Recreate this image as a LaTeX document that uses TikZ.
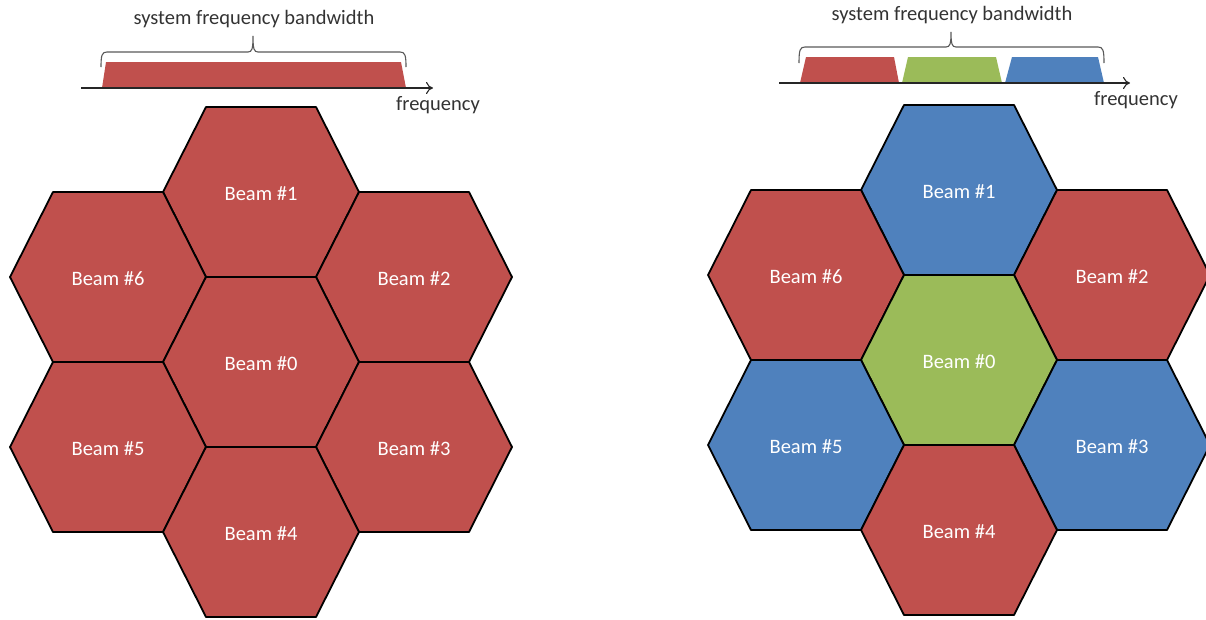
\documentclass[tikz,border=0pt]{standalone}
\usepackage{fontspec}
\setmainfont{Carlito}
\usetikzlibrary{arrows.meta}

\definecolor{beamred}{HTML}{C0504D}
\definecolor{beamgreen}{HTML}{9BBB59}
\definecolor{beamblue}{HTML}{4F81BD}

\newcommand{\hexw}{98}
\newcommand{\hexe}{55}
\newcommand{\hexh}{85}
\newcommand{\txtsize}{\fontsize{20.5}{24}\selectfont}

% hex cell: name, x, y, colour, label
\newcommand{\hexcell}[5]{
    \filldraw[#4, draw=black, line width=1.8pt, line join=round]
        (#2-\hexw,#3) -- (#2-\hexe,#3-\hexh) -- (#2+\hexe,#3-\hexh)
        -- (#2+\hexw,#3) -- (#2+\hexe,#3+\hexh) -- (#2-\hexe,#3+\hexh) -- cycle;
    \node[beamlabel] (#1) at (#2,#3+2) {#5};
}
% band: left bottom, left top, right top, right bottom, axis y, top y, colour
\newcommand{\band}[7]{
    \fill[#7] (#1,#5) -- (#2,#6) -- (#3,#6) -- (#4,#5) -- cycle;
}
% brace: left x, right x, tip x, end y, flat y, tip y
\newcommand{\bwbrace}[6]{
    \draw[bracestyle] (#1,#4) .. controls (#1,#5+3) and (#1+1,#5) .. (#1+6,#5)
        -- (#3-5,#5) .. controls (#3-1,#5) and (#3,#5-3) .. (#3,#6)
        .. controls (#3,#5-3) and (#3+1,#5) .. (#3+5,#5)
        -- (#2-6,#5) .. controls (#2-1,#5) and (#2,#5+3) .. (#2,#4);
}

\tikzset{
    beamlabel/.style={text=white, font=\txtsize, inner sep=0pt},
    toplabel/.style={text=black!80, font=\txtsize, inner sep=0pt},
    bracestyle/.style={draw=black!65, line width=1.1pt},
    freqaxis/.style={draw=black!85, line width=1.1pt, -{To[length=7pt,width=12pt]}},
}

\begin{document}
\begin{tikzpicture}[x=1pt, y=-1pt]
    \useasboundingbox (0,0) rectangle (1206,619);

    % left: one band for all beams
    \band{102}{106}{401}{406}{88}{62}{beamred}
    \coordinate (la0) at (81,88);
    \coordinate (la1) at (433,88);
    \draw[freqaxis] (la0) -- (la1);
    \bwbrace{101}{406}{253}{67}{52}{36}
    \node[toplabel] (lbw) at (254,19) {system frequency bandwidth};
    \node[toplabel] (lfreq) at (438,105) {frequency};

    \hexcell{l1}{261}{192}{beamred}{Beam \#1}
    \hexcell{l6}{108}{277}{beamred}{Beam \#6}
    \hexcell{l2}{414}{277}{beamred}{Beam \#2}
    \hexcell{l0}{261}{362}{beamred}{Beam \#0}
    \hexcell{l5}{108}{447}{beamred}{Beam \#5}
    \hexcell{l3}{414}{447}{beamred}{Beam \#3}
    \hexcell{l4}{261}{532}{beamred}{Beam \#4}

    % right: three sub-bands
    \band{800}{806}{894}{899}{83}{57}{beamred}
    \band{902}{908}{996}{1002}{83}{57}{beamgreen}
    \band{1005}{1012}{1098}{1104}{83}{57}{beamblue}
    \coordinate (ra0) at (779,83);
    \coordinate (ra1) at (1130,83);
    \draw[freqaxis] (ra0) -- (ra1);
    \bwbrace{799}{1104}{951}{63}{47}{32}
    \node[toplabel] (rbw) at (952,15) {system frequency bandwidth};
    \node[toplabel] (rfreq) at (1136,100) {frequency};

    \hexcell{r1}{959}{190}{beamblue}{Beam \#1}
    \hexcell{r6}{806}{275}{beamred}{Beam \#6}
    \hexcell{r2}{1112}{275}{beamred}{Beam \#2}
    \hexcell{r0}{959}{360}{beamgreen}{Beam \#0}
    \hexcell{r5}{806}{445}{beamblue}{Beam \#5}
    \hexcell{r3}{1112}{445}{beamblue}{Beam \#3}
    \hexcell{r4}{959}{530}{beamred}{Beam \#4}
\end{tikzpicture}
\end{document}
